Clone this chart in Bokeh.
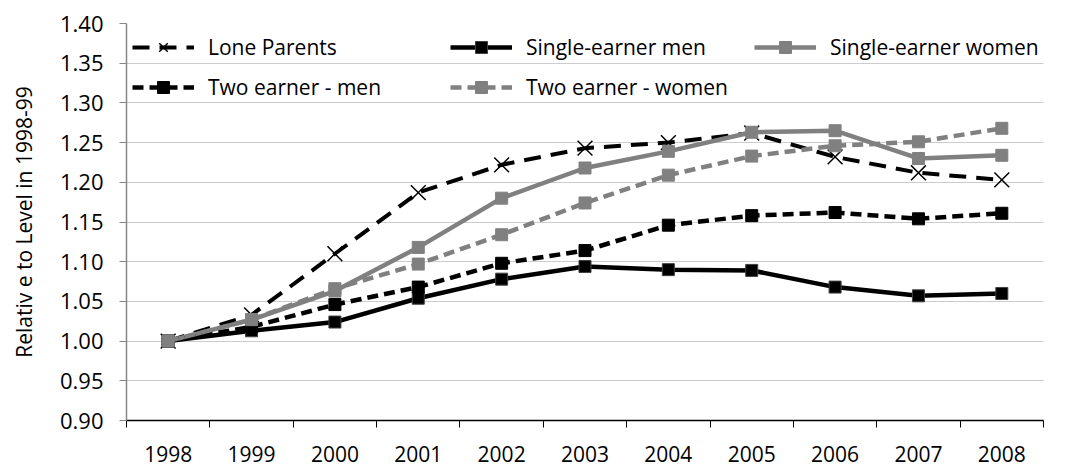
from bokeh.plotting import figure
from bokeh.models import FixedTicker, Legend, LegendItem, Range1d, PrintfTickFormatter
from bokeh.embed import file_html
from bokeh.resources import INLINE

years = [1998, 1999, 2000, 2001, 2002, 2003, 2004, 2005, 2006, 2007, 2008]
lone_parents = [1.000, 1.033, 1.110, 1.187, 1.222, 1.243, 1.250, 1.262, 1.232, 1.212, 1.203]
single_men = [1.000, 1.013, 1.024, 1.054, 1.078, 1.094, 1.090, 1.089, 1.068, 1.057, 1.060]
single_women = [1.000, 1.027, 1.063, 1.118, 1.180, 1.218, 1.239, 1.263, 1.265, 1.230, 1.234]
two_men = [1.000, 1.018, 1.046, 1.068, 1.098, 1.114, 1.146, 1.158, 1.162, 1.154, 1.161]
two_women = [1.000, 1.027, 1.066, 1.097, 1.134, 1.174, 1.209, 1.233, 1.246, 1.251, 1.268]
y_ticks = [0.90, 0.95, 1.00, 1.05, 1.10, 1.15, 1.20, 1.25, 1.30, 1.35, 1.40]

FONT = "Open Sans"
GRAY = "#808080"

p = figure(width=1072, height=469, output_backend="svg", toolbar_location=None,
           x_range=Range1d(years[0] - 0.5, years[-1] + 0.5),
           y_range=Range1d(0.90, 1.40),
           min_border_left=126, min_border_right=29, min_border_top=23, min_border_bottom=49)
p.outline_line_color = None
p.background_fill_color = "white"

# x axis: labels at category centres, tick marks at category boundaries
p.xaxis.ticker = FixedTicker(ticks=years, minor_ticks=[y - 0.5 for y in years] + [years[-1] + 0.5])
p.xaxis.major_tick_line_color = None
p.xaxis.major_tick_out = 0
p.xaxis.major_tick_in = 0
p.xaxis.minor_tick_out = 7
p.xaxis.minor_tick_in = 0
p.xaxis.minor_tick_line_color = "black"
p.xaxis.axis_line_color = "black"
p.xaxis.axis_line_width = 1.5
p.xaxis.major_label_standoff = 18
p.xaxis.major_label_text_font = FONT
p.xaxis.major_label_text_font_size = "21px"
p.xaxis.major_label_text_color = "black"

p.yaxis.ticker = FixedTicker(ticks=y_ticks)
p.yaxis.formatter = PrintfTickFormatter(format="%.2f")
p.yaxis.axis_line_color = "#868686"
p.yaxis.axis_line_width = 1.5
p.yaxis.major_tick_line_color = "#868686"
p.yaxis.major_tick_out = 7
p.yaxis.major_tick_in = 0
p.yaxis.minor_tick_line_color = None
p.yaxis.major_label_standoff = 16
p.yaxis.major_label_text_font = FONT
p.yaxis.major_label_text_font_size = "22px"
p.yaxis.major_label_text_color = "black"
p.yaxis.axis_label = "Relativ e to Level in 1998-99"
p.yaxis.axis_label_text_font = FONT
p.yaxis.axis_label_text_font_size = "21px"
p.yaxis.axis_label_text_font_style = "normal"
p.yaxis.axis_label_text_color = "black"
p.yaxis.axis_label_standoff = 19

p.xgrid.grid_line_color = None
p.ygrid.ticker = FixedTicker(ticks=y_ticks[1:])
p.ygrid.grid_line_color = "#999999"
p.ygrid.grid_line_dash = "1 1"
p.ygrid.grid_line_width = 1

# series
r_lp_l = p.line(years, lone_parents, line_color="black", line_width=4, line_dash="17 10")
r_lp_m = p.scatter(years, lone_parents, marker="x", size=21, line_color="black", line_width=1.5)

r_sm_l = p.line(years, single_men, line_color="black", line_width=4.5)
r_sm_m = p.scatter(years, single_men, marker="square", size=12, fill_color="black", line_color="#404040", line_width=1)

r_sw_l = p.line(years, single_women, line_color=GRAY, line_width=4.5)
r_sw_m = p.scatter(years, single_women, marker="square", size=12, fill_color=GRAY, line_color=GRAY, line_width=1)

r_tm_l = p.line(years, two_men, line_color="black", line_width=4.5, line_dash="11 6")
r_tm_m = p.scatter(years, two_men, marker="square", size=12, fill_color="black", line_color="black", line_width=1)

r_tw_l = p.line(years, two_women, line_color=GRAY, line_width=4.5, line_dash="11 6")
r_tw_m = p.scatter(years, two_women, marker="square", size=12, fill_color=GRAY, line_color=GRAY, line_width=1)


def make_legend(items, x, y):
    lg = Legend(items=items, location=(x, y), orientation="vertical",
                glyph_width=62, glyph_height=30, label_height=30, spacing=10,
                padding=0, margin=0, label_standoff=14,
                background_fill_alpha=0, border_line_color=None,
                label_text_font=FONT, label_text_font_size="21px", label_text_color="black")
    p.add_layout(lg, "center")
    return lg


make_legend([LegendItem(label="Lone Parents", renderers=[r_lp_l, r_lp_m]),
             LegendItem(label="Two earner - men", renderers=[r_tm_l, r_tm_m])], 6, 318)
make_legend([LegendItem(label="Single-earner men", renderers=[r_sm_l, r_sm_m]),
             LegendItem(label="Two earner - women", renderers=[r_tw_l, r_tw_m])], 324, 318)
make_legend([LegendItem(label="Single-earner women", renderers=[r_sw_l, r_sw_m])], 628, 358)

open("out.html", "w").write(file_html(p, INLINE))
